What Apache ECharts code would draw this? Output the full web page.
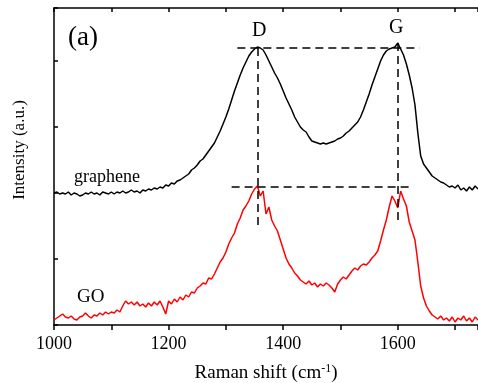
<!DOCTYPE html>
<html>
<head>
<meta charset="utf-8">
<script src="https://cdn.jsdelivr.net/npm/echarts@6/dist/echarts.min.js"></script>
<style>
  html, body { margin: 0; padding: 0; background: #fff; }
  #chart { width: 478px; height: 383px; }
</style>
</head>
<body>
<div id="chart"></div>
<script>
// Raman shift grid: 1000 .. 1740 cm-1, one reading every 5 cm-1
const shiftStart = 1000;
const shiftStep = 5;

// graphene intensity (a.u.)
const graphene = [
  132, 133, 131, 132, 131, 133, 130, 132, 131, 129,
  130, 132, 131, 133, 131, 132, 130, 133, 132, 131,
  133, 131, 133, 132, 134, 132, 133, 135, 133, 134,
  132, 135, 134, 136, 135, 137, 136, 138, 137, 140,
  139, 142, 141, 144, 145, 147, 149, 151, 155, 157,
  160, 164, 166, 170, 174, 178, 182, 188, 194, 201,
  208, 216, 225, 234, 242, 250, 257, 263, 269, 273,
  276, 278, 277, 275, 270, 264, 258, 252, 247, 241,
  234, 227, 221, 215, 208, 203, 198, 195, 193, 188,
  184, 183, 182, 181, 182, 181, 182, 183, 184, 186,
  187, 189, 192, 194, 197, 200, 203, 208, 215, 223,
  231, 240, 248, 256, 264, 270, 274, 276, 277, 278,
  282, 276, 270, 261, 250, 237, 220, 192, 169, 161,
  157, 153, 149, 147, 145, 143, 142, 140, 138, 139,
  137, 140, 135, 137, 134, 138, 135, 139, 136
];

// GO intensity (a.u.)
const grapheneOxide = [
  5, 7, 9, 11, 8, 7, 9, 6, 5, 8,
  9, 12, 9, 7, 10, 9, 12, 10, 13, 11,
  13, 12, 15, 13, 19, 24, 21, 23, 20, 23,
  19, 21, 18, 22, 19, 23, 20, 24, 18, 11,
  24, 21, 26, 23, 28, 25, 30, 28, 33, 32,
  37, 39, 42, 41, 47, 46, 51, 57, 63, 67,
  73, 81, 87, 92, 101, 107, 115, 119, 124, 131,
  136, 139, 129, 134, 111, 118, 105, 99, 94, 85,
  76, 67, 61, 57, 52, 49, 45, 43, 41, 44,
  40, 42, 38, 41, 39, 42, 40, 37, 33, 41,
  45, 48, 46, 50, 54, 57, 55, 59, 61, 60,
  63, 67, 70, 74, 84, 95, 105, 118, 129, 124,
  117, 134, 126, 119, 103, 94, 85, 63, 39, 27,
  19, 14, 10, 8, 6, 9, 5, 7, 4, 8,
  3, 7, 5, 9, 4, 7, 3, 8, 5
];

// dashed guide lines: [x1, y1, x2, y2]
const guides = [
  [1320, 277, 1638, 277],   // top of the graphene peaks
  [1310, 138.5, 1626, 138.5], // top of the GO peaks
  [1355, 277, 1355, 95],    // D band
  [1599.5, 282, 1599.5, 102] // G band
];

const xTicks = [1000, 1200, 1400, 1600];

const toPairs = (ys) => ys.map((y, i) => [shiftStart + i * shiftStep, y]);

const chart = echarts.init(document.getElementById("chart"));
const serif = "Liberation Serif";

const options = {
  animation: false,
  backgroundColor: "#ffffff",
  grid: { left: 54, right: 0, top: 8, bottom: 58, outerBoundsMode: "none", containLabel: false },
  xAxis: [
    {
      type: "value",
      min: 1000,
      max: 1740,
      interval: 200,
      axisLine: { lineStyle: { color: "#000", width: 1.5 } },
      axisTick: { inside: false, length: 5, lineStyle: { color: "#000", width: 1.5 } },
      minorTick: { show: true, splitNumber: 2, length: 5, lineStyle: { color: "#000", width: 1.5 } },
      splitLine: { show: false },
      axisLabel: {
        color: "#000",
        fontFamily: serif,
        fontSize: 18,
        margin: 10,
        formatter: (v) => (xTicks.includes(v) ? String(v) : "")
      },
      name: "{a|Raman shift (cm}{s|-1}{a|)}",
      nameLocation: "middle",
      nameGap: 38,
      nameTextStyle: {
        rich: {
          a: { fontFamily: serif, fontSize: 19, color: "#000" },
          s: { fontFamily: serif, fontSize: 12, color: "#000", verticalAlign: "top", padding: [0, 0, 9, 0] }
        }
      }
    },
    {
      type: "value",
      position: "top",
      min: 1000,
      max: 1740,
      interval: 100,
      axisLine: { show: true, lineStyle: { color: "#000", width: 1.5 } },
      axisTick: { inside: true, length: 4, lineStyle: { color: "#000", width: 1.5 } },
      axisLabel: { show: false },
      splitLine: { show: false }
    }
  ],
  yAxis: {
    type: "value",
    min: 0,
    max: 317,
    interval: 66,
    axisLine: { show: true, lineStyle: { color: "#000", width: 1.5 } },
    axisTick: { show: true, inside: true, length: 4, lineStyle: { color: "#000", width: 1.5 } },
    axisLabel: { show: false },
    splitLine: { show: false }
  },
  graphic: [
    {
      type: "text", left: 68, top: 24,
      style: { text: "(a)", font: "27px " + serif, fill: "#000" }
    },
    {
      type: "text", left: 252, top: 21,
      style: { text: "D", font: "20px " + serif, fill: "#000" }
    },
    {
      type: "text", left: 389, top: 18,
      style: { text: "G", font: "20px " + serif, fill: "#000" }
    },
    {
      type: "text", left: 74, top: 168,
      style: { text: "graphene", font: "18px " + serif, fill: "#000" }
    },
    {
      type: "text", left: 77, top: 288,
      style: { text: "GO", font: "19px " + serif, fill: "#000" }
    },
    {
      type: "text", x: 20, y: 150, rotation: Math.PI / 2,
      style: { text: "Intensity (a.u.)", font: "17px " + serif, fill: "#000", align: "center", verticalAlign: "middle" }
    }
  ],
  series: [
    {
      name: "graphene",
      type: "line",
      data: toPairs(graphene),
      showSymbol: false,
      lineStyle: { color: "#000", width: 1.5 },
      markLine: {
        silent: true,
        symbol: "none",
        label: { show: false },
        lineStyle: { color: "#000", width: 1.5, type: [8, 5] },
        data: guides.map((g) => [{ coord: [g[0], g[1]] }, { coord: [g[2], g[3]] }])
      }
    },
    {
      name: "GO",
      type: "line",
      data: toPairs(grapheneOxide),
      showSymbol: false,
      lineStyle: { color: "#ff0000", width: 1.5 }
    }
  ]
};

chart.setOption(options);
</script>
</body>
</html>
